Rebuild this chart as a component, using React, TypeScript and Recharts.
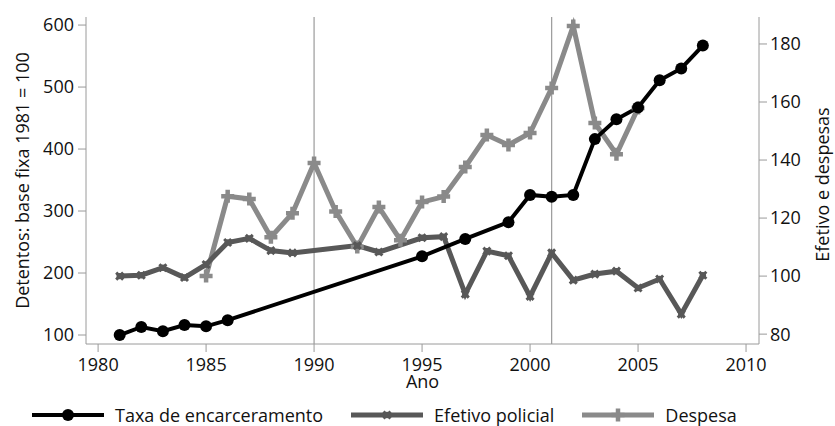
import { ComposedChart, Line, XAxis, YAxis, ReferenceLine, Legend } from 'recharts';

// years on the x axis
const years = [
  1981, 1982, 1983, 1984, 1985, 1986, 1987, 1988, 1989, 1990, 1991, 1992, 1993, 1994,
  1995, 1996, 1997, 1998, 1999, 2000, 2001, 2002, 2003, 2004, 2005, 2006, 2007, 2008,
];

// Detentos, base fixa 1981 = 100 (left axis)
const taxa = [
  100, 113, 106, 116, 114, 124, null, null, null, null, null, null, null, null,
  227, null, 255, null, 282, 326, 323, 326, 416, 448, 467, 511, 530, 567,
];

// Efetivo policial (right axis)
const efetivo = [
  100, 100.3, 102.9, 99.5, 104, 111.6, 113, 108.8, 108, null, null, 110.5, 108.3, null,
  113.2, 113.6, 93.8, 108.6, 107, 93, 108, 98.6, 100.7, 101.7, 95.9, 99, 86.9, 100.3,
];

// Despesa (right axis)
const despesa = [
  null, null, null, null, 100, 127.5, 126.6, 113.4, 121.7, 139, 122.3, 110, 123.8, 112.4,
  125.5, 127.4, 137.6, 148.6, 145.2, 149.3, 164.8, 186.2, 152.8, 142, 157.9, null, null, null,
];

const xTicks = [1980, 1985, 1990, 1995, 2000, 2005, 2010];
const leftTicks = [100, 200, 300, 400, 500, 600];
const rightTicks = [80, 100, 120, 140, 160, 180];
const markedYears = [1990, 2001];

const data = years.map((year, i) => ({
  year,
  taxa: taxa[i],
  efetivo: efetivo[i],
  despesa: despesa[i],
}));

const FONT = "'Open Sans', 'Noto Sans', sans-serif";
const AXIS = '#9a9a9a';
const BLACK = '#000000';
const DARK = '#585858';
const LIGHT = '#8a8a8a';

const CircleMark = ({ cx, cy, color }: any) => <circle cx={cx} cy={cy} r={6} fill={color} />;

// small filled "x" used by Efetivo policial
const XMark = ({ cx, cy, color }: any) => (
  <g>
    <path
      d={`M${cx - 3.5},${cy - 3.5}L${cx + 3.5},${cy + 3.5}M${cx - 3.5},${cy + 3.5}L${cx + 3.5},${cy - 3.5}`}
      stroke={color}
      strokeWidth={3}
    />
    <circle cx={cx} cy={cy} r={3.2} fill={color} />
  </g>
);

const PlusMark = ({ cx, cy, color }: any) => (
  <path
    d={`M${cx - 6.5},${cy}L${cx + 6.5},${cy}M${cx},${cy - 6.5}L${cx},${cy + 6.5}`}
    stroke={color}
    strokeWidth={4.5}
  />
);

const makeDot = (Mark: any, color: string) => (props: any) => {
  const { cx, cy, index, value } = props;
  if (value == null || cx == null || cy == null) return <g key={index} />;
  return <Mark key={index} cx={cx} cy={cy} color={color} />;
};

const legendItems = [
  { name: 'Taxa de encarceramento', color: BLACK, Mark: CircleMark, width: 4 },
  { name: 'Efetivo policial', color: DARK, Mark: XMark, width: 5 },
  { name: 'Despesa', color: LIGHT, Mark: PlusMark, width: 5 },
];

const LegendContent = () => (
  <div
    style={{
      height: 30,
      display: 'flex',
      alignItems: 'center',
      paddingLeft: 32,
      paddingTop: 8,
      boxSizing: 'border-box',
      fontFamily: FONT,
      fontSize: 18,
      color: '#111',
    }}
  >
    {legendItems.map((item) => (
      <div key={item.name} style={{ display: 'flex', alignItems: 'center', marginRight: 28 }}>
        <svg width={72} height={16} style={{ marginRight: 11 }}>
          <line x1={0} y1={8} x2={72} y2={8} stroke={item.color} strokeWidth={item.width} />
          <item.Mark cx={36} cy={8} color={item.color} />
        </svg>
        <span style={{ lineHeight: '18px' }}>{item.name}</span>
      </div>
    ))}
  </div>
);

const LeftLabel = ({ viewBox }: any) => {
  const x = viewBox.x + 22;
  const y = viewBox.y + viewBox.height / 2;
  return (
    <text x={x} y={y} transform={`rotate(-90, ${x}, ${y})`} textAnchor="middle" dominantBaseline="central"
      fontFamily={FONT} fontSize={18} fill="#111">
      Detentos: base fixa 1981 = 100
    </text>
  );
};

const RightLabel = ({ viewBox }: any) => {
  const x = viewBox.x + 63;
  const y = viewBox.y + viewBox.height / 2 + 4;
  return (
    <text x={x} y={y} transform={`rotate(-90, ${x}, ${y})`} textAnchor="middle" dominantBaseline="central"
      fontFamily={FONT} fontSize={18} fill="#111">
      Efetivo e despesas
    </text>
  );
};

const XLabel = ({ viewBox }: any) => (
  <text x={viewBox.x + viewBox.width / 2} y={viewBox.y + 44} textAnchor="middle"
    fontFamily={FONT} fontSize={18} fill="#111">
    Ano
  </text>
);

const tickStyle = { fill: '#111', fontSize: 18, fontFamily: FONT };

export default function App() {
  return (
    <div style={{ position: 'absolute', left: 0, top: 0, width: 835, height: 426, background: '#fff' }}>
      <ComposedChart width={835} height={426} data={data} margin={{ top: 17, right: 0, bottom: 0, left: 0 }}>
        <XAxis
          dataKey="year"
          type="number"
          domain={[1979.44, 2010.6]}
          allowDataOverflow
          ticks={xTicks}
          height={52}
          tickSize={8}
          tickMargin={6}
          stroke={AXIS}
          tick={tickStyle}
          label={<XLabel />}
        />
        <YAxis
          yAxisId="left"
          width={86}
          domain={[85.5, 613]}
          allowDataOverflow
          ticks={leftTicks}
          tickSize={8}
          tickMargin={4}
          stroke={AXIS}
          tick={tickStyle}
          label={<LeftLabel />}
        />
        <YAxis
          yAxisId="right"
          orientation="right"
          width={76}
          domain={[76.6, 189.3]}
          allowDataOverflow
          ticks={rightTicks}
          tickSize={8}
          tickMargin={3}
          stroke={AXIS}
          tick={tickStyle}
          label={<RightLabel />}
        />
        {markedYears.map((yr) => (
          <ReferenceLine key={yr} x={yr} yAxisId="left" stroke={AXIS} strokeWidth={1.2} />
        ))}
        <Legend verticalAlign="bottom" content={<LegendContent />} />
        <Line
          yAxisId="right"
          dataKey="despesa"
          stroke={LIGHT}
          strokeWidth={5}
          connectNulls
          dot={makeDot(PlusMark, LIGHT)}
          activeDot={false}
          isAnimationActive={false}
        />
        <Line
          yAxisId="right"
          dataKey="efetivo"
          stroke={DARK}
          strokeWidth={5}
          connectNulls
          dot={makeDot(XMark, DARK)}
          activeDot={false}
          isAnimationActive={false}
        />
        <Line
          yAxisId="left"
          dataKey="taxa"
          stroke={BLACK}
          strokeWidth={4}
          connectNulls
          dot={makeDot(CircleMark, BLACK)}
          activeDot={false}
          isAnimationActive={false}
        />
      </ComposedChart>
    </div>
  );
}
